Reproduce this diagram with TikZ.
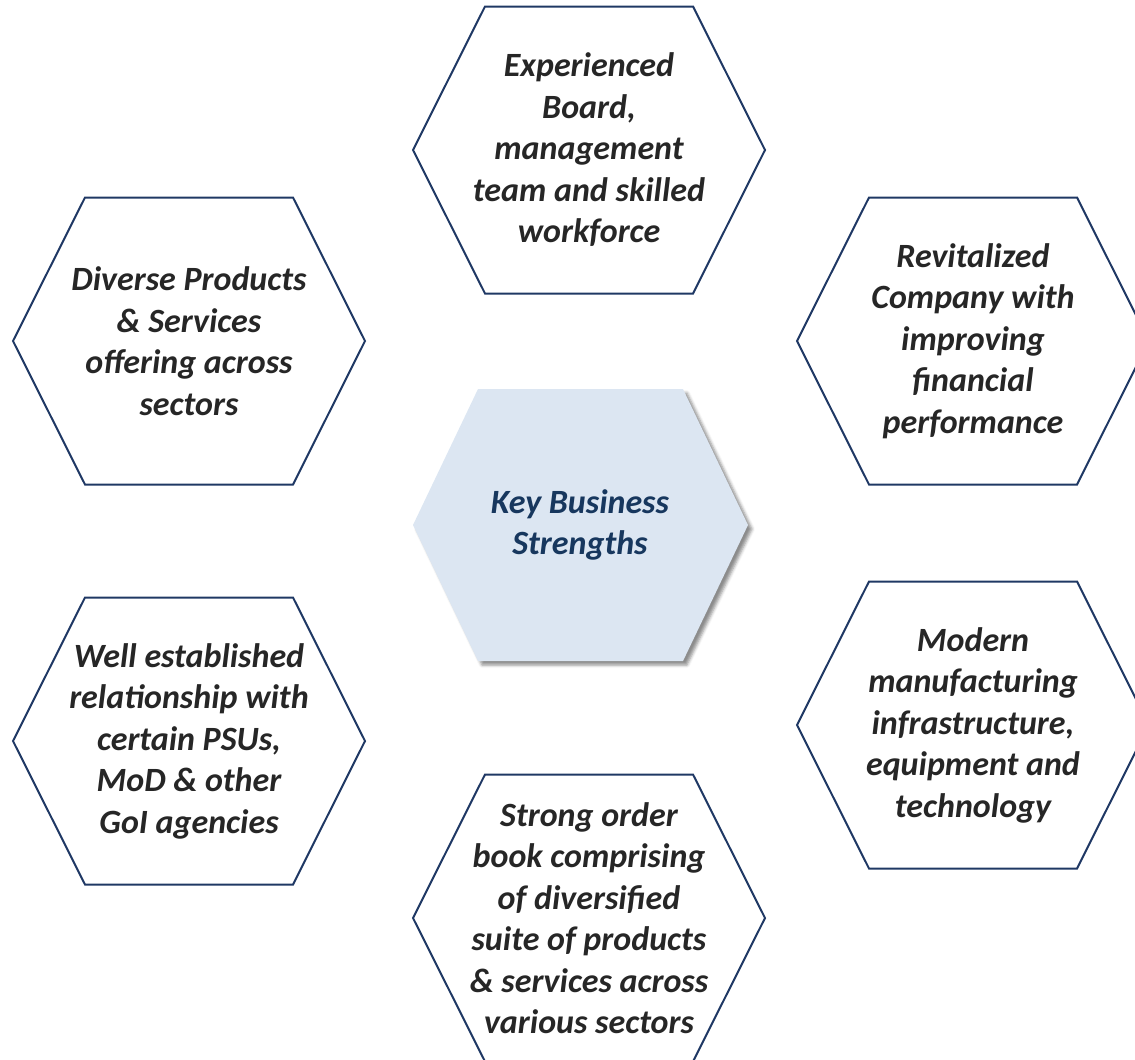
\documentclass[tikz,border=0pt]{standalone}
\usepackage{fontspec}
\setmainfont{Carlito}
\usetikzlibrary{shadows.blur}
\definecolor{hexline}{HTML}{1F3864}
\definecolor{hexfill}{HTML}{DCE6F2}
\definecolor{keytext}{HTML}{17375E}
\definecolor{bodytext}{HTML}{262626}

\begin{document}
\begin{tikzpicture}[x=1pt, y=-1pt, every node/.style={align=center, text=bodytext, font=\fontsize{34}{41.5}\selectfont\bfseries\itshape},%
        hexa/.style={draw=hexline, line width=2pt, line join=miter},
        keyhexa/.style={fill=hexfill, blur shadow={shadow xshift=4pt, shadow yshift=-4pt, shadow blur radius=3pt, shadow opacity=45}}]
    \useasboundingbox (0,0) rectangle (1135,1060);
    % outer hexagons
    \foreach \cx/\cy in {589/150, 189/341, 973/341, 189/741, 973/725, 589/918}
        \draw[hexa] (\cx-176,\cy) -- ++(72,-143.5) -- ++(208,0) -- ++(72,143.5) -- ++(-72,143.5) -- ++(-208,0) -- cycle;
    % centre hexagon
    \fill[keyhexa] (413,525) -- ++(65,-136) -- ++(205,0) -- ++(65,136) -- ++(-65,136) -- ++(-205,0) -- cycle;

    \node (key) [text=keytext] at (580,525) {Key Business\\Strengths};
    \node (board) at (589,150) {Experienced\\Board,\\management\\team and skilled\\workforce};
    \node (products) at (189,341) {Diverse Products\\\& Services\\offering across\\sectors};
    \node (revital) at (973,341) {Revitalized\\Company with\\improving\\financial\\performance};
    \node (relation) at (189,741) {Well established\\relationship with\\certain PSUs,\\MoD \& other\\GoI agencies};
    \node (modern) at (973,725) {Modern\\manufacturing\\infrastructure,\\equipment and\\technology};
    \node (order) at (589,918) {Strong order\\book comprising\\of diversified\\suite of products\\\& services across\\various sectors};
\end{tikzpicture}
\end{document}
